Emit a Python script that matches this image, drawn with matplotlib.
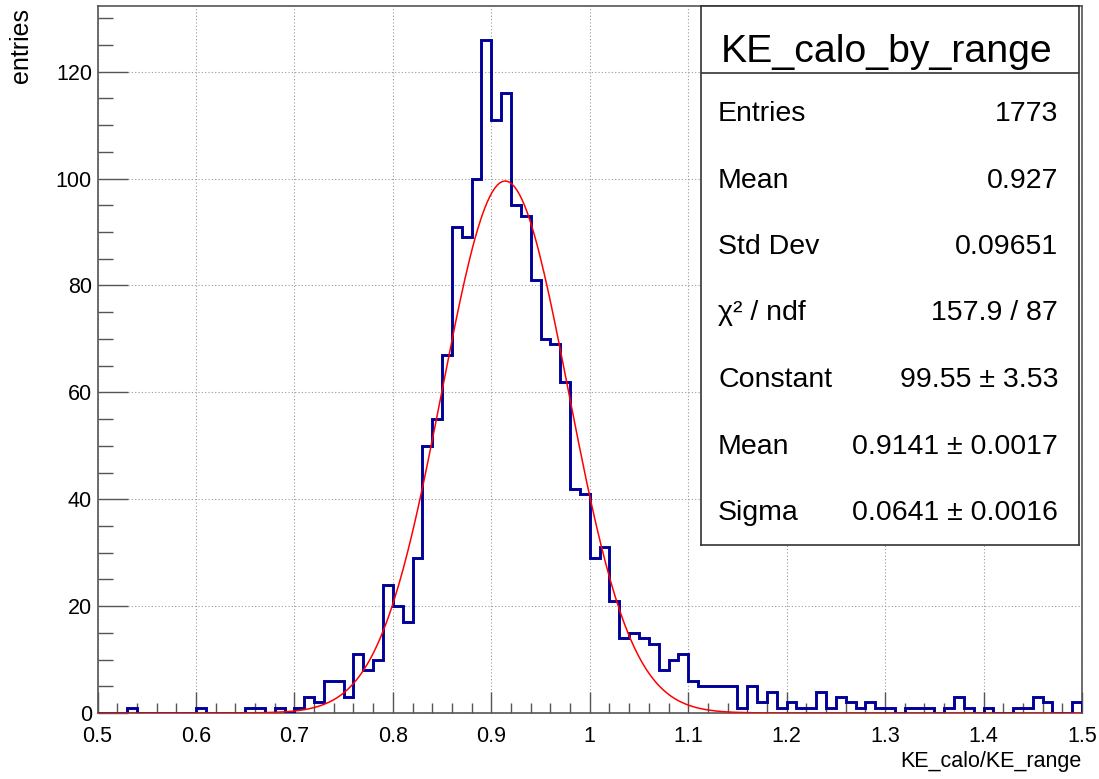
import numpy as np
import matplotlib
matplotlib.use("Agg")
import matplotlib.pyplot as plt
from matplotlib.ticker import MultipleLocator, FuncFormatter
from matplotlib.font_manager import findfont, FontProperties

# histogram KE_calo_by_range: 100 bins from 0.5 to 1.5
bin_lo, bin_hi, n_bins = 0.5, 1.5, 100
counts = [
    0, 0, 0, 1, 0, 0, 0, 0, 0, 0,
    1, 0, 0, 0, 0, 1, 1, 0, 1, 0,
    1, 3, 2, 6, 6, 3, 11, 8, 10, 24,
    20, 17, 29, 50, 55, 67, 91, 89, 100, 126,
    111, 116, 95, 93, 81, 70, 69, 62, 42, 41,
    29, 31, 21, 14, 15, 14, 13, 8, 10, 11,
    6, 5, 5, 5, 5, 1, 5, 2, 4, 1,
    2, 1, 1, 4, 1, 3, 2, 1, 2, 1,
    1, 0, 1, 1, 1, 0, 1, 3, 1, 0,
    1, 0, 0, 1, 1, 3, 2, 0, 0, 2,
]

# gaussian fit result
fit_const, fit_const_err = 99.55, 3.53
fit_mean, fit_mean_err = 0.9141, 0.0017
fit_sigma, fit_sigma_err = 0.0641, 0.0016
chi2, ndf = 157.9, 87

n_entries = 1773
hist_mean = 0.927
hist_std = 0.09651

HIST_BLUE = "#000099"
FIT_RED = "#ff0000"
FRAME = "#555555"

plt.rcParams["font.family"] = ["Liberation Sans", "DejaVu Sans"]


def _title_family():
    try:
        findfont(FontProperties(family="Liberation Sans Narrow"), fallback_to_default=False)
        return ["Liberation Sans Narrow", "Liberation Sans"], 32
    except Exception:
        return ["Liberation Sans", "DejaVu Sans"], 28.3


W, H = 1099, 779
fig = plt.figure(figsize=(W / 100, H / 100), dpi=100, facecolor="white")

# frame in pixel coordinates
fx0, fx1, fy_top, fy_bot = 97.5, 1082, 6, 713
ax = fig.add_axes([fx0 / W, (H - fy_bot) / H, (fx1 - fx0) / W, (fy_bot - fy_top) / H])

edges = np.linspace(bin_lo, bin_hi, n_bins + 1)
ax.stairs(counts, edges, color=HIST_BLUE, linewidth=2.1, baseline=0, zorder=3)

xf = np.linspace(bin_lo, bin_hi, 400)
yf = fit_const * np.exp(-0.5 * ((xf - fit_mean) / fit_sigma) ** 2)
ax.plot(xf, yf, color=FIT_RED, linewidth=1.1, zorder=4)

ax.set_xlim(bin_lo, bin_hi)
ax.set_ylim(0, 1.05 * max(counts))

ax.xaxis.set_major_locator(MultipleLocator(0.1))
ax.xaxis.set_minor_locator(MultipleLocator(0.02))
ax.yaxis.set_major_locator(MultipleLocator(20))
ax.yaxis.set_minor_locator(MultipleLocator(5))
ax.xaxis.set_major_formatter(FuncFormatter(lambda v, p: f"{v:g}"))
ax.yaxis.set_major_formatter(FuncFormatter(lambda v, p: f"{v:g}"))

ax.tick_params(axis="both", which="both", direction="in", color=FRAME, width=1.0,
               top=False, right=False, labelsize=15.5)
ax.tick_params(axis="x", which="major", length=15, pad=9.5)
ax.tick_params(axis="x", which="minor", length=7.5)
ax.tick_params(axis="y", which="major", length=21.5, pad=4)
ax.tick_params(axis="y", which="minor", length=10.8)

ax.grid(True, which="major", linestyle=(0, (1, 2)), color="#9a9a9a", linewidth=0.8)
ax.set_axisbelow(True)
for sp in ax.spines.values():
    sp.set_color(FRAME)
    sp.set_linewidth(1.2)

# axis titles, ROOT style (right/top aligned)
fig.text(fx1 / W, (H - 767) / H, "KE_calo/KE_range", ha="right", va="baseline", fontsize=15.5)
fig.text(33 / W, (H - 8) / H, "entries", rotation=90, ha="right", va="top", fontsize=18)

# statistics box
bx0, bx1, by_top, by_bot = 701, 1079, 6, 545
sb = fig.add_axes([bx0 / W, (H - by_bot) / H, (bx1 - bx0) / W, (by_bot - by_top) / H], zorder=5)
sb.set_xlim(0, 1)
sb.set_ylim(0, 1)
sb.set_xticks([])
sb.set_yticks([])
sb.set_facecolor("white")
for sp in sb.spines.values():
    sp.set_color("#333333")
    sp.set_linewidth(1.2)

bh = by_bot - by_top


def by(py):
    return (by_bot - py) / bh


sb.axhline(by(72.7), color="#333333", linewidth=1.2)
tfam, tsize = _title_family()
sb.text(0.49, by(61.7), "KE_calo_by_range", ha="center", va="baseline",
        fontsize=tsize, family=tfam)

rows = [
    ("Entries", f"{n_entries}"),
    ("Mean", f"{hist_mean:.3f}"),
    ("Std Dev", f"{hist_std:.5f}"),
    ("\u03c7\u00b2 / ndf", f"{chi2:.1f} / {ndf}"),
    ("Constant", f"{fit_const:.2f} \u00b1 {fit_const_err:.2f}"),
    ("Mean", f"{fit_mean:.4f} \u00b1 {fit_mean_err:.4f}"),
    ("Sigma", f"{fit_sigma:.4f} \u00b1 {fit_sigma_err:.4f}"),
]
lx = (718 - bx0) / (bx1 - bx0)
rx = (1058 - bx0) / (bx1 - bx0)
for i, (label, val) in enumerate(rows):
    y = by(121 + i * 66.5)
    sb.text(lx, y, label, ha="left", va="baseline", fontsize=20.5)
    sb.text(rx, y, val, ha="right", va="baseline", fontsize=20.5)

fig.savefig("out.png", dpi=100, facecolor="white")
